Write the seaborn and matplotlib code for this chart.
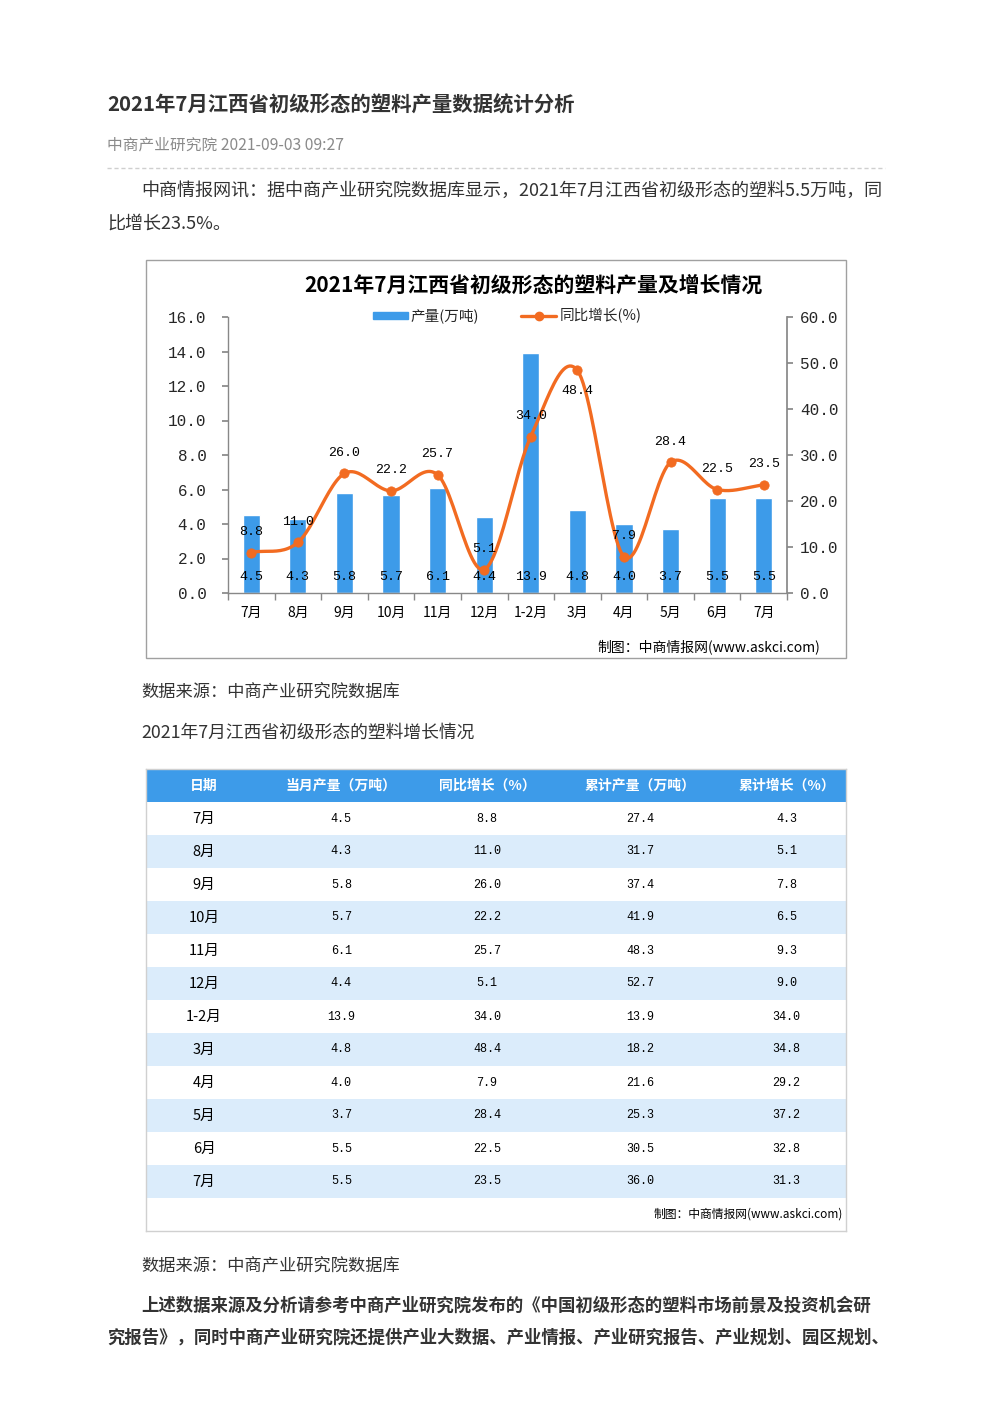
import numpy as np
import pandas as pd
import seaborn as sns
import matplotlib.pyplot as plt
from matplotlib.patches import Patch, Rectangle
from matplotlib.lines import Line2D

# data
months = ['7月', '8月', '9月', '10月', '11月', '12月', '1-2月', '3月', '4月', '5月', '6月', '7月']
output = [4.5, 4.3, 5.8, 5.7, 6.1, 4.4, 13.9, 4.8, 4.0, 3.7, 5.5, 5.5]
yoy = [8.8, 11.0, 26.0, 22.2, 25.7, 5.1, 34.0, 48.4, 7.9, 28.4, 22.5, 23.5]
cum_output = [27.4, 31.7, 37.4, 41.9, 48.3, 52.7, 13.9, 18.2, 21.6, 25.3, 30.5, 36.0]
cum_growth = [4.3, 5.1, 7.8, 6.5, 9.3, 9.0, 34.0, 34.8, 29.2, 37.2, 32.8, 31.3]
left_ticks = [0, 2, 4, 6, 8, 10, 12, 14, 16]
right_ticks = [0, 10, 20, 30, 40, 50, 60]
table_header = ['日期', '当月产量（万吨）', '同比增长（%）', '累计产量（万吨）', '累计增长（%）']

BLUE = '#3d9be9'
ORANGE = '#f26b21'
STRIPE = '#dbecfb'
TEXT = '#333333'
MONO = 'Liberation Mono'

sns.set_theme(style='white')
plt.rcParams['font.family'] = ['Noto Sans CJK SC', 'DejaVu Sans']

W, H = 992, 1403
fig = plt.figure(figsize=(W / 100, H / 100), dpi=100)
fig.patch.set_facecolor('white')


def fx(x):
    return x / W


def fy(y):
    return 1 - y / H


def smooth(x, y, n=24):
    # catmull-rom through the points, like excel's smoothed line
    pts = np.column_stack([x, y]).astype(float)
    ext = np.vstack([2 * pts[0] - pts[1], pts, 2 * pts[-1] - pts[-2]])
    t = np.linspace(0, 1, n, endpoint=False)[:, None]
    out = []
    for i in range(1, len(ext) - 2):
        p0, p1, p2, p3 = ext[i - 1:i + 3]
        out.append(0.5 * (2 * p1 + (-p0 + p2) * t + (2 * p0 - 5 * p1 + 4 * p2 - p3) * t ** 2
                          + (-p0 + 3 * p1 - 3 * p2 + p3) * t ** 3))
    out.append(pts[-1:])
    out = np.vstack(out)
    return out[:, 0], out[:, 1]


# ---- article header ----
fig.text(fx(107), fy(105), '2021年7月江西省初级形态的塑料产量数据统计分析',
         fontsize=14.7, fontweight='bold', color=TEXT, va='center')
fig.text(fx(107), fy(145), '中商产业研究院 2021-09-03 09:27', fontsize=11.3, color='#8a8a8a', va='center')
fig.add_artist(Line2D([fx(107), fx(885)], [fy(168), fy(168)], transform=fig.transFigure,
                      color='#cfcfcf', lw=1, ls=(0, (3, 2))))
fig.text(fx(141), fy(191), '中商情报网讯：据中商产业研究院数据库显示，2021年7月江西省初级形态的塑料5.5万吨，同',
         fontsize=13, color=TEXT, va='center')
fig.text(fx(107), fy(224), '比增长23.5%。', fontsize=13, color=TEXT, va='center')

# ---- chart ----
fig.add_artist(Rectangle((fx(146), fy(658)), 700 / W, 398 / H, transform=fig.transFigure,
                         fill=False, ec='#a0a0a0', lw=1))
fig.text(fx(533), fy(285), '2021年7月江西省初级形态的塑料产量及增长情况',
         fontsize=15, fontweight='bold', color='black', ha='center', va='center')

df = pd.DataFrame({'pos': np.arange(len(months)), 'output': output, 'yoy': yoy})

ax = fig.add_axes([fx(228), fy(593), (787 - 228) / W, (593 - 317) / H])
ax.patch.set_alpha(0)
sns.barplot(data=df, x='pos', y='output', color=BLUE, width=0.37, saturation=1, ax=ax)
ax.set_xlim(-0.5, len(months) - 0.5)
ax.set_ylim(0, 16)
ax.set_yticks(left_ticks)
ax.set_yticklabels([f'{v:.1f}' for v in left_ticks], fontfamily=MONO, fontsize=11.5)
ax.set_xticks(df['pos'])
ax.set_xticklabels(months, fontsize=10, color='black', fontweight='medium')
ax.set_xticks(np.arange(-0.5, len(months)), minor=True)
ax.tick_params(axis='x', which='major', length=0, pad=9)
ax.tick_params(axis='x', which='minor', length=5, color='#888888', direction='out', bottom=True)
ax.tick_params(axis='y', length=4.5, color='#888888', direction='out', left=True, pad=11)
ax.set_xlabel('')
ax.set_ylabel('')
for s in ['top', 'right']:
    ax.spines[s].set_visible(False)
for s in ['left', 'bottom']:
    ax.spines[s].set_color('#888888')
    ax.spines[s].set_linewidth(1)
for i, v in enumerate(output):
    ax.text(i, 0.95, f'{v:.1f}', ha='center', va='center', fontfamily=MONO, fontsize=9.5, color='black')

ax2 = ax.twinx()
xs, ys = smooth(df['pos'], df['yoy'])
sns.lineplot(x=xs, y=ys, sort=False, color=ORANGE, lw=2.4, ax=ax2)
sns.scatterplot(data=df, x='pos', y='yoy', color=ORANGE, s=45, edgecolor=ORANGE, ax=ax2, zorder=5)
ax2.set_ylim(0, 60)
ax2.set_yticks(right_ticks)
ax2.set_yticklabels([f'{v:.1f}' for v in right_ticks], fontfamily=MONO, fontsize=11.5)
ax2.tick_params(axis='y', length=4.5, color='#888888', direction='out', right=True, pad=5)
ax2.set_ylabel('')
ax2.set_xlabel('')
for s in ['top', 'left', 'bottom']:
    ax2.spines[s].set_visible(False)
ax2.spines['right'].set_color('#888888')
for i, v in enumerate(yoy):
    off = -15 if v == max(yoy) else 15
    ax2.annotate(f'{v:.1f}', (i, v), xytext=(0, off), textcoords='offset points',
                 ha='center', va='center', fontfamily=MONO, fontsize=9.5, color='black')

handles = [Patch(color=BLUE, label='产量(万吨)'),
           Line2D([0], [0], color=ORANGE, lw=2.4, marker='o', ms=6, label='同比增长(%)')]
fig.legend(handles=handles, loc='center', bbox_to_anchor=(fx(507), fy(316)), ncol=2, frameon=False,
           fontsize=10.5, handlelength=2.4, handleheight=0.42, handletextpad=0.2, columnspacing=2.9)
fig.text(fx(820), fy(647), '制图：中商情报网(www.askci.com)', fontsize=10, color='black', ha='right', va='center')

# ---- between ----
fig.text(fx(141), fy(693), '数据来源：中商产业研究院数据库', fontsize=12.4, color=TEXT, va='center')
fig.text(fx(141), fy(733), '2021年7月江西省初级形态的塑料增长情况', fontsize=12.8, color=TEXT, va='center')

# ---- table ----
tab = pd.DataFrame({'month': months, 'output': output, 'yoy': yoy,
                    'cum_output': cum_output, 'cum_growth': cum_growth})
col_x = [0.083, 0.279, 0.487, 0.706, 0.915]
axt = fig.add_axes([fx(146), fy(1231), 700 / W, 462 / H])
axt.set_xlim(0, 1)
axt.set_ylim(len(tab) + 2, 0)
axt.set_xticks([])
axt.set_yticks([])
for s in axt.spines.values():
    s.set_color('#d0d0d0')
    s.set_linewidth(1)
axt.axhspan(0, 1, color=BLUE, lw=0)
for j, h in enumerate(table_header):
    axt.text(col_x[j], 0.5, h, ha='center', va='center', fontsize=10, fontweight='bold', color='white')
for i, row in tab.iterrows():
    if i % 2 == 1:
        axt.axhspan(i + 1, i + 2, color=STRIPE, lw=0)
    y = i + 1.5
    axt.text(col_x[0], y, row['month'], ha='center', va='center', fontsize=10.5, color='black')
    for j, key in enumerate(['output', 'yoy', 'cum_output', 'cum_growth'], start=1):
        axt.text(col_x[j], y, f'{row[key]:.1f}', ha='center', va='center',
                 fontfamily=MONO, fontsize=8.5, color='black')
axt.text(0.995, len(tab) + 1.5, '制图：中商情报网(www.askci.com)', ha='right', va='center',
         fontsize=8.5, color='black')

# ---- footer text ----
fig.text(fx(141), fy(1267), '数据来源：中商产业研究院数据库', fontsize=12.4, color=TEXT, va='center')
fig.text(fx(141), fy(1306), '上述数据来源及分析请参考中商产业研究院发布的《中国初级形态的塑料市场前景及投资机会研',
         fontsize=12.5, fontweight='bold', color=TEXT, va='center')
fig.text(fx(107), fy(1338), '究报告》，同时中商产业研究院还提供产业大数据、产业情报、产业研究报告、产业规划、园区规划、',
         fontsize=12.5, fontweight='bold', color=TEXT, va='center')

plt.savefig('out.png', dpi=100)
